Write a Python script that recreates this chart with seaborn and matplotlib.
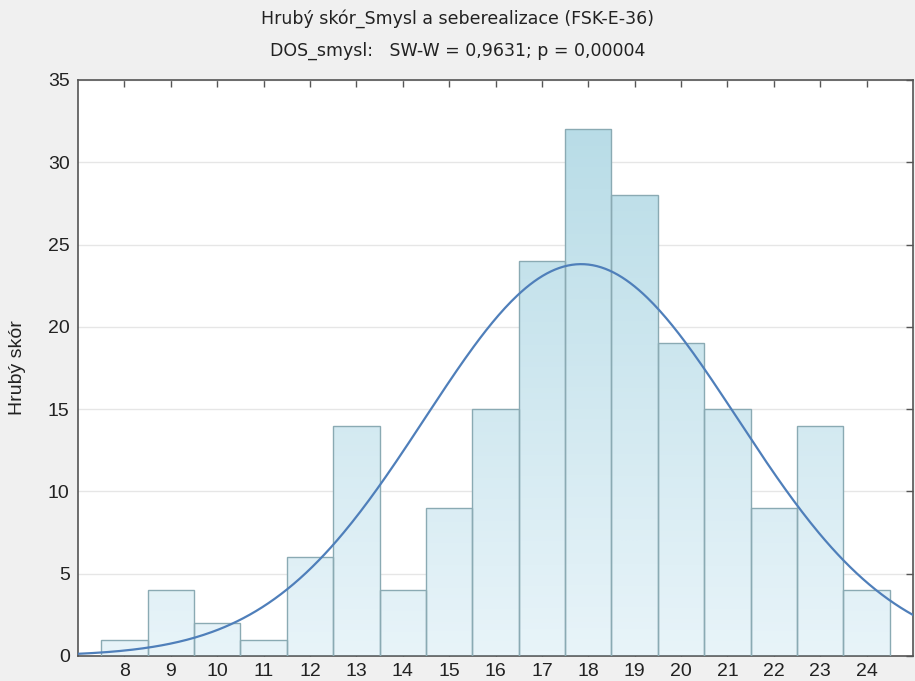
import numpy as np
import matplotlib
matplotlib.use("Agg")
import matplotlib.pyplot as plt
import seaborn as sns
from matplotlib.colors import LinearSegmentedColormap

# Data
scores = [8, 9, 10, 11, 12, 13, 14, 15, 16, 17, 18, 19, 20, 21, 22, 23, 24]
counts = [1, 4, 2, 1, 6, 14, 4, 9, 15, 24, 32, 28, 19, 15, 9, 14, 4]
title_lines = ["Hrubý skór_Smysl a seberealizace (FSK-E-36)",
               "DOS_smysl:   SW-W = 0,9631; p = 0,00004"]
ylabel = "Hrubý skór"
yticks = [0, 5, 10, 15, 20, 25, 30, 35]

sns.set_theme(style="white")
plt.rcParams['font.family'] = ['Liberation Sans', 'DejaVu Sans']

fig = plt.figure(figsize=(9.15, 6.81), dpi=100)
fig.patch.set_facecolor("#f0f0f0")
ax = fig.add_axes([78/915, 1-656/681, (913-78)/915, (656-80)/681])
ax.set_facecolor("white")

sns.histplot(x=scores, weights=counts, discrete=True, ax=ax,
             color="#cfe8f0", edgecolor="#8aaab3", linewidth=1.0, alpha=1.0, zorder=2)

# gradient fill on bars
cmap = LinearSegmentedColormap.from_list("g", ["#e8f4f9", "#b6dbe6"])
for p in list(ax.patches):
    x0 = p.get_x(); w = p.get_width(); h = p.get_height()
    grad = np.linspace(0, h, 64)[:, None]
    im = ax.imshow(grad, extent=(x0, x0 + w, 0, h), origin="lower", cmap=cmap,
                   vmin=0, vmax=34, aspect="auto", zorder=2.5, interpolation="bilinear")
    im.set_clip_path(p)
    p.set_facecolor("none")
    p.set_zorder(3)

# normal curve from data
s = np.array(scores, float); c = np.array(counts, float)
N = c.sum(); mu = (s * c).sum() / N
sd = np.sqrt(((s - mu) ** 2 * c).sum() / (N - 1))
xx = np.linspace(7, 25, 400)
yy = N * 1.0 / (sd * np.sqrt(2 * np.pi)) * np.exp(-0.5 * ((xx - mu) / sd) ** 2)
sns.lineplot(x=xx, y=yy, ax=ax, color="#4f7fba", linewidth=1.6, zorder=4)

ax.set_xlim(7, 25)
ax.set_ylim(0, 35)
ax.set_xticks(scores)
ax.set_yticks(yticks)
ax.yaxis.grid(True, color="#e6e6e6", linewidth=1.0, zorder=0)
ax.set_axisbelow(True)
for sp in ax.spines.values():
    sp.set_color("#555555"); sp.set_linewidth(1.2); sp.set_visible(True)
ax.tick_params(axis="x", direction="in", length=5, width=1, color="#555555",
               labelsize=14, pad=5, top=True, bottom=True, labelcolor="#222222")
ax.tick_params(axis="y", which="major", left=False, right=True, direction="in",
               length=5, width=1, color="#555555", labelsize=14, pad=6,
               labelcolor="#222222")
ax.set_xlabel("")
ax.set_ylabel(ylabel, fontsize=14, color="#222222", labelpad=16)

fig.text(0.5, 1 - 19/681, title_lines[0], ha="center", va="center", fontsize=12.5,
         family=["Liberation Sans Narrow", "DejaVu Sans"], color="#222222")
fig.text(0.5, 1 - 51/681, title_lines[1], ha="center", va="center", fontsize=12.5,
         family=["Liberation Sans Narrow", "DejaVu Sans"], color="#222222")

fig.savefig("out.png", dpi=100, facecolor=fig.get_facecolor())
